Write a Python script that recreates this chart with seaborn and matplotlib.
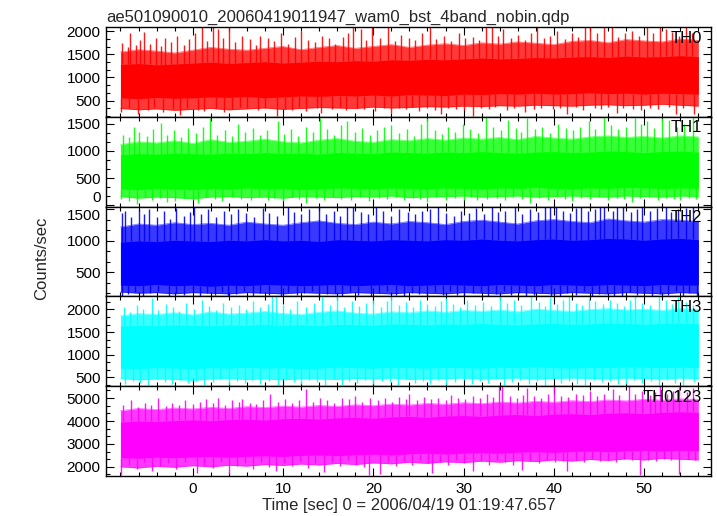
import numpy as np
import pandas as pd
import matplotlib
matplotlib.use("Agg")
import matplotlib.pyplot as plt
from matplotlib.ticker import MultipleLocator
import seaborn as sns

# ---------------- data ----------------
title = "ae501090010_20060419011947_wam0_bst_4band_nobin.qdp"
xlabel = "Time [sec] 0 = 2006/04/19 01:19:47.657"
ylabel = "Counts/sec"
bands = ["TH0", "TH1", "TH2", "TH3", "TH0123"]
colors = ["#ff0000", "#00ff00", "#0000ff", "#00ffff", "#ff00ff"]
ylims = [(150, 2090), (-25, 1630), (120, 1545), (300, 2290), (1600, 5520)]
ymajor = [500, 500, 500, 500, 1000]
xlim = (-9.6, 57.4)

# envelope sample times (s)
t_env = [-8, -6, -4, -2, 0, 2, 4, 6, 8, 10, 12, 14, 16, 18, 20, 22, 24, 26,
         28, 30, 32, 34, 36, 38, 40, 42, 44, 46, 48, 50, 52, 54, 56]

# ---- TH0
th0_core_lo = [560, 540, 570, 550, 560, 580, 570, 590, 560, 580, 600, 590, 610, 600, 620, 600, 630,
               620, 610, 640, 630, 650, 640, 660, 640, 650, 670, 650, 660, 640, 660, 650, 640]
th0_core_hi = [1280, 1300, 1270, 1290, 1310, 1330, 1300, 1320, 1340, 1310, 1330, 1350, 1340, 1360, 1350, 1380, 1370,
               1390, 1380, 1400, 1420, 1400, 1410, 1430, 1420, 1440, 1450, 1430, 1460, 1440, 1450, 1470, 1450]
th0_out_lo = [330, 300, 320, 290, 310, 330, 300, 320, 340, 310, 330, 350, 340, 330, 360, 340, 350,
              370, 360, 380, 370, 390, 380, 400, 390, 380, 400, 410, 390, 400, 420, 400, 380]
th0_out_hi = [1550, 1600, 1570, 1530, 1590, 1650, 1610, 1590, 1630, 1670, 1600, 1650, 1690, 1630, 1670, 1710, 1650,
              1700, 1730, 1690, 1750, 1720, 1770, 1740, 1710, 1780, 1800, 1750, 1820, 1790, 1770, 1830, 1800]
th0_spk_t = [-7.8, -7.2, -6.9, -6.3, -5.8, -5.4, -4.7, -4.1, -3.5, -3.1, -2.4, -1.7, -1.0, -0.4, 0.3, 1.0,
             1.6, 2.3, 2.8, 3.4, 4.0, 4.7, 5.5, 6.3, 7.0, 7.5, 8.3, 9.0, 9.8, 10.6, 11.3, 12.0, 12.8, 13.5,
             14.3, 15.1, 15.8, 16.6, 17.2, 17.7, 18.6, 19.2, 19.9, 20.7, 21.6, 22.4, 23.1, 23.9, 24.6, 25.4,
             26.3, 27.0, 27.8, 28.6, 29.5, 30.2, 31.0, 31.7, 32.5, 33.1, 33.8, 34.4, 35.2, 36.0, 36.8, 37.5,
             38.1, 38.9, 39.6, 40.4, 41.2, 42.0, 42.7, 43.4, 44.0, 44.8, 45.5, 46.4, 47.1, 47.9, 48.6, 49.4,
             50.3, 51.0, 51.8, 52.4, 53.1, 53.9, 54.6, 55.3]
th0_spk_v = [1750, 1650, 1950, 1700, 1800, 1980, 1720, 1850, 1680, 1850, 1760, 1900, 1700, 1820, 1950, 2100,
             1780, 2100, 2050, 1850, 2100, 1760, 1900, 1820, 1700, 1900, 1850, 1780, 1950, 1720, 1880, 2000,
             1800, 1760, 1900, 1850, 1720, 1880, 1950, 2100, 2050, 1800, 2100, 1850, 2100, 1780, 1920, 1850,
             1800, 1950, 2100, 1820, 1900, 1780, 1950, 1850, 1880, 1800, 2100, 2100, 1900, 2050, 1850, 1920,
             1800, 1950, 2100, 1850, 1900, 2000, 1820, 1950, 1880, 2100, 2100, 1950, 2100, 2100, 1880, 1950,
             2000, 1900, 2100, 1950, 2100, 2050, 1980, 1900, 2100, 1950]
th0_dip_t = [-7.9, -7.0, -6.1, -5.0, -4.3, -3.3, -2.2, -1.4, -0.6, 0.6, 1.3, 2.6, 3.5, 4.4, 5.2, 6.0, 7.2,
             8.0, 9.3, 10.2, 11.0, 11.8, 12.6, 13.8, 14.2, 15.4, 16.3, 17.0, 18.2, 19.0, 20.2, 21.2, 22.0,
             22.8, 23.6, 24.3, 25.1, 26.0, 26.8, 27.5, 28.3, 29.2, 30.0, 31.0, 31.9, 32.8, 33.5, 34.8, 35.6,
             36.8, 37.8, 38.6, 39.9, 40.7, 41.5, 42.4, 43.2, 44.5, 45.2, 46.0, 47.0, 47.7, 48.8, 49.6, 50.6,
             51.5, 52.7, 53.5, 54.3, 55.5]
th0_dip_v = [250, 330, 220, 300, 360, 260, 320, 180, 350, 300, 280, 340, 260, 310, 360, 330, 290, 350,
             160, 320, 300, 360, 270, 340, 240, 320, 360, 290, 330, 310, 280, 330, 230, 350, 320, 370, 270,
             340, 300, 200, 350, 320, 290, 170, 340, 320, 370, 290, 330, 250, 310, 350, 320, 340, 220, 360,
             300, 340, 320, 370, 240, 340, 320, 290, 350, 310, 360, 210, 340, 200]

# ---- TH1
th1_core_lo = [300, 290, 310, 300, 290, 310, 300, 320, 300, 310, 290, 300, 320, 310, 300, 320, 310,
               300, 320, 310, 300, 320, 310, 330, 310, 300, 320, 310, 330, 320, 310, 320, 310]
th1_core_hi = [930, 950, 940, 960, 950, 940, 960, 950, 970, 950, 960, 940, 970, 960, 950, 980, 970,
               960, 980, 970, 990, 970, 960, 980, 990, 970, 980, 1000, 990, 970, 990, 1000, 980]
th1_out_lo = [160, 130, 150, 140, 120, 150, 160, 140, 150, 130, 160, 150, 140, 160, 150, 170, 140,
              150, 160, 170, 150, 160, 170, 150, 160, 170, 160, 150, 170, 160, 150, 170, 160]
th1_out_hi = [1120, 1170, 1150, 1190, 1140, 1210, 1160, 1180, 1220, 1170, 1150, 1200, 1230, 1180, 1160, 1210, 1190,
              1230, 1200, 1240, 1220, 1250, 1210, 1270, 1240, 1220, 1260, 1280, 1250, 1270, 1240, 1280, 1260]
th1_spk_t = [-7.7, -7.0, -6.5, -5.9, -5.1, -4.4, -3.5, -2.9, -2.1, -1.3, -0.5, 0.4, 1.1, 1.9, 2.7, 3.6,
             4.3, 5.0, 5.8, 6.7, 7.4, 8.2, 9.4, 10.1, 10.9, 11.7, 12.5, 13.3, 14.1, 14.9, 15.7, 16.4, 17.1,
             18.0, 18.8, 19.6, 20.4, 21.2, 22.0, 22.9, 23.7, 24.5, 25.3, 25.9, 26.8, 27.6, 28.3, 29.0, 29.9,
             30.7, 31.6, 32.5, 33.3, 34.1, 34.9, 35.8, 36.4, 37.0, 37.9, 38.7, 39.6, 40.5, 41.3, 42.1, 42.9,
             43.9, 44.6, 45.6, 46.3, 47.1, 48.0, 49.0, 49.6, 50.3, 51.1, 52.0, 52.8, 53.6, 54.4, 55.4]
th1_spk_v = [1300, 1250, 1450, 1350, 1280, 1400, 1520, 1300, 1380, 1250, 1420, 1330, 1450, 1600, 1300, 1380,
             1270, 1500, 1350, 1420, 1300, 1380, 1560, 1320, 1400, 1280, 1450, 1350, 1610, 1400, 1300, 1470,
             1550, 1350, 1420, 1300, 1380, 1450, 1480, 1330, 1400, 1280, 1500, 1600, 1380, 1320, 1450, 1350,
             1500, 1400, 1330, 1620, 1450, 1380, 1580, 1420, 1350, 1600, 1400, 1450, 1330, 1500, 1420, 1380,
             1450, 1560, 1400, 1620, 1480, 1400, 1450, 1600, 1500, 1550, 1420, 1610, 1580, 1450, 1500, 1630]
th1_dip_t = [-7.9, -7.1, -6.2, -5.3, -4.5, -3.6, -2.8, -2.0, -1.0, 0.0, 0.6, 1.5, 2.5, 3.3, 4.3, 5.3, 6.5,
             7.3, 8.3, 9.0, 10.0, 11.0, 11.8, 12.6, 13.7, 14.5, 15.5, 16.4, 17.5, 18.5, 19.5, 20.6, 21.5,
             22.5, 23.4, 24.4, 25.2, 25.9, 27.0, 28.0, 29.0, 30.0, 30.8, 31.5, 32.6, 33.7, 34.6, 35.5, 36.5,
             37.4, 38.4, 39.4, 40.3, 41.2, 42.0, 43.0, 44.0, 45.0, 46.0, 47.0, 47.8, 48.6, 49.5, 50.5, 51.5,
             52.4, 53.3, 54.0, 55.0, 55.7]
th1_dip_v = [120, 80, 20, 150, 90, 130, 60, 80, 140, 100, 40, 160, 110, 70, 150, 120, 90, 160, 100, 130,
             80, 150, 110, 50, 140, 100, 160, 120, 90, 150, 70, 130, 110, 150, 90, 140, 120, 60, 150, 100,
             130, 90, 160, 90, 120, 140, 100, 150, 110, 50, 140, 100, 150, 120, 80, 130, 110, 150, 100, 140,
             120, 60, 130, 150, 100, 140, 120, 90, 130, 110]

# ---- TH2
th2_core_lo = [300, 290, 310, 290, 300, 280, 300, 290, 310, 300, 290, 300, 310, 290, 300, 310, 290,
               300, 310, 300, 290, 310, 300, 290, 310, 300, 290, 310, 300, 290, 310, 300, 300]
th2_core_hi = [980, 1000, 990, 1010, 1000, 990, 1010, 1000, 1020, 1000, 1010, 990, 1020, 1010, 1000, 1020, 1010,
               1000, 1020, 1010, 1030, 1010, 1000, 1020, 1030, 1010, 1020, 1040, 1030, 1010, 1030, 1040, 1020]
th2_out_lo = [190, 170, 180, 160, 180, 170, 160, 180, 170, 160, 180, 170, 160, 180, 170, 160, 180,
              170, 160, 180, 170, 160, 180, 170, 160, 180, 170, 160, 180, 170, 160, 180, 170]
th2_out_hi = [1220, 1270, 1250, 1290, 1260, 1280, 1250, 1300, 1270, 1250, 1290, 1320, 1280, 1260, 1300, 1270, 1310,
              1290, 1260, 1310, 1330, 1300, 1270, 1320, 1340, 1310, 1290, 1350, 1320, 1300, 1340, 1330, 1310]
th2_spk_t = [-7.8, -7.5, -6.8, -6.0, -5.4, -4.8, -4.0, -3.2, -2.5, -1.8, -1.0, -0.3, 0.2, 0.9, 1.7, 2.6,
             3.5, 4.2, 5.0, 5.9, 6.8, 7.8, 8.5, 9.3, 10.5, 11.2, 12.0, 12.9, 14.0, 14.8, 15.6, 16.3, 17.1,
             17.7, 18.6, 19.4, 20.3, 21.1, 22.0, 22.9, 23.8, 24.6, 25.4, 26.3, 27.2, 28.0, 28.9, 29.7, 30.6,
             31.4, 32.3, 33.1, 33.8, 34.6, 35.7, 36.5, 37.3, 38.2, 39.0, 39.6, 40.2, 41.0, 41.8, 42.4, 43.0,
             43.8, 44.5, 45.1, 45.6, 46.5, 47.0, 47.7, 48.5, 49.2, 49.8, 50.6, 51.4, 52.4, 53.0, 53.8, 54.6,
             55.4]
th2_spk_v = [1450, 1480, 1380, 1500, 1420, 1500, 1380, 1470, 1350, 1520, 1400, 1460, 1540, 1420, 1500, 1380,
             1480, 1420, 1500, 1440, 1380, 1520, 1450, 1400, 1540, 1460, 1420, 1500, 1540, 1430, 1480, 1400,
             1540, 1540, 1460, 1420, 1540, 1480, 1400, 1500, 1460, 1420, 1480, 1510, 1540, 1440, 1400, 1480,
             1450, 1520, 1420, 1540, 1460, 1480, 1540, 1430, 1500, 1460, 1540, 1540, 1540, 1480, 1450, 1520,
             1540, 1480, 1500, 1540, 1540, 1470, 1540, 1540, 1460, 1500, 1540, 1480, 1520, 1540, 1460, 1500,
             1520, 1540]
th2_dip_t = [-7.8, -7.2, -6.4, -5.5, -4.7, -3.8, -2.6, -1.9, -1.0, 0.0, 0.8, 1.6, 2.5, 3.2, 3.9, 4.8, 5.7,
             6.7, 7.5, 8.5, 9.8, 10.6, 11.5, 12.3, 13.2, 14.0, 14.9, 15.8, 16.5, 17.4, 18.3, 19.8, 20.6, 21.5,
             22.5, 23.4, 24.3, 25.1, 26.0, 26.8, 27.7, 28.5, 29.3, 30.1, 31.0, 31.9, 32.7, 33.6, 34.5, 35.3,
             36.1, 36.9, 37.8, 38.7, 39.7, 40.7, 41.5, 42.4, 43.3, 44.2, 45.0, 45.9, 46.7, 47.5, 48.4, 49.2,
             50.0, 50.9, 51.7, 52.6, 53.5, 54.3, 55.0, 55.8]
th2_dip_v = [120, 160, 190, 130, 170, 200, 120, 180, 150, 200, 125, 170, 140, 190, 120, 160, 200, 130, 180,
             150, 120, 190, 140, 170, 200, 130, 160, 180, 120, 190, 150, 120, 170, 200, 140, 120, 180, 160,
             130, 190, 150, 200, 140, 120, 170, 190, 125, 160, 200, 140, 180, 120, 150, 190, 130, 120, 170,
             150, 200, 120, 160, 180, 130, 120, 190, 150, 170, 120, 160, 140, 200, 125, 170, 120]

# ---- TH3
th3_core_lo = [700, 690, 710, 700, 690, 710, 700, 720, 700, 710, 690, 700, 720, 710, 700, 720, 710,
               700, 720, 710, 700, 720, 710, 730, 710, 700, 720, 710, 730, 720, 710, 720, 710]
th3_core_hi = [1630, 1650, 1640, 1660, 1650, 1640, 1660, 1650, 1670, 1650, 1660, 1640, 1670, 1660, 1650, 1680, 1670,
               1660, 1680, 1670, 1690, 1670, 1660, 1680, 1690, 1670, 1680, 1700, 1690, 1670, 1690, 1700, 1680]
th3_out_lo = [470, 440, 460, 450, 430, 460, 470, 450, 460, 440, 470, 460, 450, 470, 460, 480, 450,
              460, 470, 480, 460, 470, 480, 460, 470, 480, 470, 460, 480, 470, 460, 480, 470]
th3_out_hi = [1860, 1910, 1890, 1930, 1880, 1950, 1900, 1920, 1960, 1910, 1890, 1940, 1970, 1920, 1900, 1950, 1930,
              1970, 1940, 1980, 1960, 1990, 1950, 2010, 1980, 1960, 2000, 2020, 1990, 2010, 1980, 2020, 2000]
th3_spk_t = [-7.6, -6.9, -6.2, -5.5, -4.5, -3.8, -3.0, -2.2, -1.5, -0.7, 0.1, 1.0, 1.8, 2.6, 3.4, 4.2, 5.1,
             5.9, 6.7, 7.5, 8.3, 8.8, 9.2, 10.0, 10.8, 11.6, 12.5, 13.4, 14.3, 15.2, 16.0, 16.8, 17.6, 18.4,
             19.2, 20.0, 20.8, 21.5, 22.0, 22.8, 23.6, 24.4, 25.2, 26.0, 26.8, 27.5, 28.0, 28.8, 29.6, 30.4,
             31.3, 32.2, 33.0, 34.0, 34.8, 35.6, 36.4, 37.5, 38.3, 39.0, 39.6, 40.4, 41.0, 41.7, 42.4, 43.1,
             43.9, 44.6, 45.4, 46.2, 47.0, 47.8, 48.4, 49.0, 49.8, 50.6, 51.6, 52.4, 53.1, 53.8, 54.6, 55.4]
th3_spk_v = [2050, 1950, 2100, 2000, 2250, 1980, 2120, 2050, 1960, 2150, 2020, 2200, 2080, 1980, 2150, 2050,
             2100, 2000, 2180, 2060, 2120, 2290, 2290, 2100, 2020, 2180, 2060, 2150, 2280, 2100, 2290, 2050,
             2180, 2080, 2150, 2220, 2050, 2180, 2290, 2100, 2160, 2060, 2200, 2120, 2080, 2180, 2250, 2120,
             2050, 2200, 2100, 2160, 2080, 2290, 2150, 2200, 2100, 2290, 2160, 2080, 2280, 2120, 2200, 2290,
             2150, 2100, 2250, 2180, 2120, 2200, 2150, 2080, 2200, 2290, 2150, 2100, 2290, 2200, 2120, 2280,
             2160, 2100]
th3_dip_t = [-7.5, -6.6, -5.8, -4.9, -4.0, -3.1, -2.3, -1.4, -0.5, 0.4, 1.3, 2.2, 3.0, 4.0, 4.9, 5.8, 6.6,
             7.5, 8.4, 9.4, 10.3, 11.2, 12.0, 12.9, 13.8, 14.7, 15.6, 16.5, 17.3, 18.2, 19.1, 20.0, 21.0,
             21.9, 22.7, 23.6, 24.6, 25.5, 26.3, 27.2, 28.1, 29.0, 30.0, 30.9, 31.8, 32.7, 33.6, 34.5, 35.4,
             36.3, 37.2, 38.1, 39.0, 39.9, 40.8, 41.7, 42.6, 43.5, 44.4, 45.3, 46.2, 47.1, 48.0, 48.9, 49.8,
             50.7, 51.6, 52.5, 53.4, 54.3, 55.5]
th3_dip_v = [350, 420, 380, 330, 460, 400, 340, 440, 370, 420, 330, 400, 450, 320, 410, 380, 440, 350, 420,
             330, 460, 390, 350, 430, 400, 330, 460, 320, 410, 380, 440, 340, 420, 390, 330, 450, 380, 410,
             350, 430, 330, 400, 440, 350, 420, 380, 460, 320, 400, 440, 340, 410, 330, 450, 380, 420, 350,
             330, 440, 390, 420, 340, 350, 430, 380, 410, 320, 440, 380, 330, 400]

# ---- TH0123
th0123_core_lo = [2400, 2380, 2420, 2400, 2430, 2450, 2420, 2460, 2480, 2450, 2500, 2520, 2490, 2530, 2550, 2520, 2570,
                  2590, 2560, 2600, 2620, 2590, 2640, 2660, 2630, 2670, 2690, 2660, 2700, 2720, 2690, 2720, 2700]
th0123_core_hi = [3950, 4000, 3980, 4020, 4050, 4010, 4060, 4080, 4040, 4100, 4120, 4080, 4140, 4160, 4120, 4180, 4200,
                  4160, 4220, 4240, 4200, 4260, 4280, 4240, 4300, 4320, 4280, 4340, 4360, 4320, 4380, 4400, 4380]
th0123_out_lo = [2000, 1950, 2020, 1980, 2050, 2000, 2070, 2030, 2100, 2060, 2120, 2080, 2150, 2100, 2170, 2130, 2200,
                 2150, 2220, 2180, 2250, 2200, 2270, 2230, 2300, 2250, 2320, 2280, 2350, 2300, 2370, 2330, 2300]
th0123_out_hi = [4450, 4550, 4500, 4570, 4530, 4600, 4550, 4630, 4590, 4650, 4610, 4680, 4640, 4710, 4670, 4740, 4700,
                 4770, 4730, 4800, 4760, 4830, 4790, 4860, 4820, 4890, 4850, 4920, 4880, 4950, 4910, 4970, 4930]
th0123_spk_t = [-7.7, -6.8, -6.1, -5.3, -4.6, -3.8, -3.0, -2.3, -1.5, -0.8, 0.0, 0.8, 1.5, 2.3, 2.8, 3.6, 4.4,
                5.1, 5.5, 6.3, 7.0, 7.8, 8.6, 9.4, 10.2, 11.0, 11.8, 12.5, 13.3, 14.1, 14.9, 15.7, 16.5, 17.3,
                18.0, 18.8, 19.6, 20.5, 21.3, 22.1, 22.9, 23.6, 24.0, 24.8, 25.6, 26.4, 27.2, 28.0, 28.6, 29.4,
                30.2, 31.0, 31.8, 32.6, 33.3, 33.9, 34.3, 35.1, 35.9, 36.6, 37.0, 37.8, 38.6, 39.3, 40.0, 40.8,
                41.6, 42.4, 43.2, 44.0, 44.8, 45.6, 46.5, 47.2, 48.3, 49.0, 49.8, 50.6, 51.2, 51.7, 52.5, 53.2,
                53.9, 54.7, 55.4]
th0123_spk_v = [4700, 4900, 4600, 4800, 4700, 5000, 4650, 4800, 4700, 4900, 4750, 4850, 4950, 4800, 5000, 4700,
                4900, 4850, 4950, 4800, 4750, 4900, 5200, 4850, 4950, 4800, 4900, 5400, 4850, 5000, 4900, 4800,
                5000, 4950, 5100, 4850, 5000, 4900, 5000, 4850, 5050, 4950, 5200, 4900, 5050, 4950, 5000, 4900,
                5150, 5000, 4950, 5100, 5000, 5200, 5050, 5520, 5520, 5100, 5000, 5150, 5450, 5100, 5000, 5200,
                5520, 5100, 5050, 5200, 5150, 5300, 5100, 5200, 5400, 5150, 5520, 5200, 5300, 5150, 5250, 5520,
                5200, 5300, 5500, 5250, 5450]
th0123_dip_t = [-7.9, -7.1, -6.2, -5.4, -4.5, -3.6, -2.7, -1.8, -0.9, 0.5, 1.3, 2.2, 3.1, 4.0, 4.9, 5.8, 6.7,
                7.6, 8.4, 9.2, 10.1, 11.0, 11.9, 12.8, 13.6, 14.5, 15.4, 16.3, 17.2, 18.1, 19.0, 19.5, 20.7,
                21.6, 22.5, 23.4, 24.3, 25.2, 26.1, 26.5, 27.4, 28.3, 29.2, 30.1, 31.0, 31.9, 32.8, 33.7, 34.6,
                35.5, 36.5, 37.4, 38.3, 39.2, 40.1, 41.0, 41.5, 42.4, 43.3, 44.2, 45.1, 46.0, 46.9, 47.8, 48.7,
                49.5, 50.4, 51.3, 52.2, 53.0, 53.9, 54.8, 55.6]
th0123_dip_v = [1650, 2100, 1900, 2200, 1800, 2050, 2150, 1900, 2200, 1750, 2100, 1950, 2200, 1700, 2050, 2150,
                1900, 2200, 2000, 1800, 2150, 2050, 2250, 1950, 2150, 1780, 2200, 2050, 2300, 2100, 2000, 1650,
                1700, 2200, 2050, 2250, 2100, 2300, 2150, 1750, 2200, 2100, 2300, 2150, 1800, 2250, 2100, 2300,
                2200, 2100, 1850, 2250, 2150, 2300, 2200, 2250, 1800, 2300, 2200, 2350, 2250, 2300, 2200, 2350,
                2300, 1650, 2300, 2250, 2350, 2300, 1700, 2350, 2300]

core_lo = [th0_core_lo, th1_core_lo, th2_core_lo, th3_core_lo, th0123_core_lo]
core_hi = [th0_core_hi, th1_core_hi, th2_core_hi, th3_core_hi, th0123_core_hi]
out_lo = [th0_out_lo, th1_out_lo, th2_out_lo, th3_out_lo, th0123_out_lo]
out_hi = [th0_out_hi, th1_out_hi, th2_out_hi, th3_out_hi, th0123_out_hi]
spk_t = [th0_spk_t, th1_spk_t, th2_spk_t, th3_spk_t, th0123_spk_t]
spk_v = [th0_spk_v, th1_spk_v, th2_spk_v, th3_spk_v, th0123_spk_v]
dip_t = [th0_dip_t, th1_dip_t, th2_dip_t, th3_dip_t, th0123_dip_t]
dip_v = [th0_dip_v, th1_dip_v, th2_dip_v, th3_dip_v, th0123_dip_v]

# ---------------- figure ----------------
sns.set_theme(style="ticks")
plt.rcParams["font.family"] = ["Liberation Sans", "DejaVu Sans"]

W, H = 717, 516
fig, axes = plt.subplots(5, 1, figsize=(W / 100, H / 100), dpi=100, sharex=True)
fig.subplots_adjust(left=106 / W, right=711 / W, top=1 - 27 / H, bottom=1 - 476 / H, hspace=0)

for i, ax in enumerate(axes):
    c = colors[i]
    df = pd.DataFrame({"t": t_env, "clo": core_lo[i], "chi": core_hi[i],
                       "olo": out_lo[i], "ohi": out_hi[i]})
    ax.fill_between(df["t"], df["olo"], df["ohi"], color=c, alpha=0.78, lw=0)
    ax.fill_between(df["t"], df["clo"], df["chi"], color=c, alpha=1.0, lw=0)
    sns.lineplot(data=df, x="t", y="ohi", ax=ax, color=c, lw=0.5, alpha=0.6)
    sns.lineplot(data=df, x="t", y="olo", ax=ax, color=c, lw=0.5, alpha=0.6)

    sdf = pd.DataFrame(list(zip(spk_t[i], spk_v[i])), columns=["t", "v"])
    base_hi = np.interp(sdf["t"], t_env, core_hi[i])
    ax.vlines(sdf["t"], base_hi, sdf["v"], color=c, lw=1.0, alpha=0.9)
    ddf = pd.DataFrame(list(zip(dip_t[i], dip_v[i])), columns=["t", "v"])
    base_lo = np.interp(ddf["t"], t_env, core_lo[i])
    ax.vlines(ddf["t"], ddf["v"], base_lo, color=c, lw=1.0, alpha=0.9)

    ax.set_xlim(*xlim)
    ax.set_ylim(*ylims[i])
    ax.set_xlabel("")
    ax.set_ylabel("")
    ax.xaxis.set_major_locator(MultipleLocator(10))
    ax.xaxis.set_minor_locator(MultipleLocator(2))
    ax.yaxis.set_major_locator(MultipleLocator(ymajor[i]))
    ax.yaxis.set_minor_locator(MultipleLocator(ymajor[i] / 3))
    ax.tick_params(which="both", direction="in", top=True, right=True, colors="black",
                   labelsize=11, width=0.8)
    ax.tick_params(which="major", length=6, pad=4)
    ax.tick_params(which="minor", length=3)
    for s in ax.spines.values():
        s.set_color("black")
        s.set_linewidth(1.0)
    ax.text(0.985, 0.96, bands[i], transform=ax.transAxes, ha="right", va="top",
            fontsize=12, color="black")
    if i < 4:
        ax.tick_params(labelbottom=False)

axes[0].set_title(title, loc="left", fontsize=12, pad=4)
axes[-1].set_xlabel(xlabel, fontsize=12, labelpad=2)
fig.text(42 / W, 0.5, ylabel, rotation=90, ha="center", va="center", fontsize=12)

# the "0" of TH1 and the "1500" of TH2 meet at the shared border: nudge only those two apart
fig.canvas.draw()
for lab in axes[1].get_yticklabels():
    if lab.get_text() == "0":
        lab.set_va("bottom")
for lab in axes[2].get_yticklabels():
    if lab.get_text() == "1500":
        lab.set_va("top")

fig.savefig("out.png", dpi=100, facecolor="white")
